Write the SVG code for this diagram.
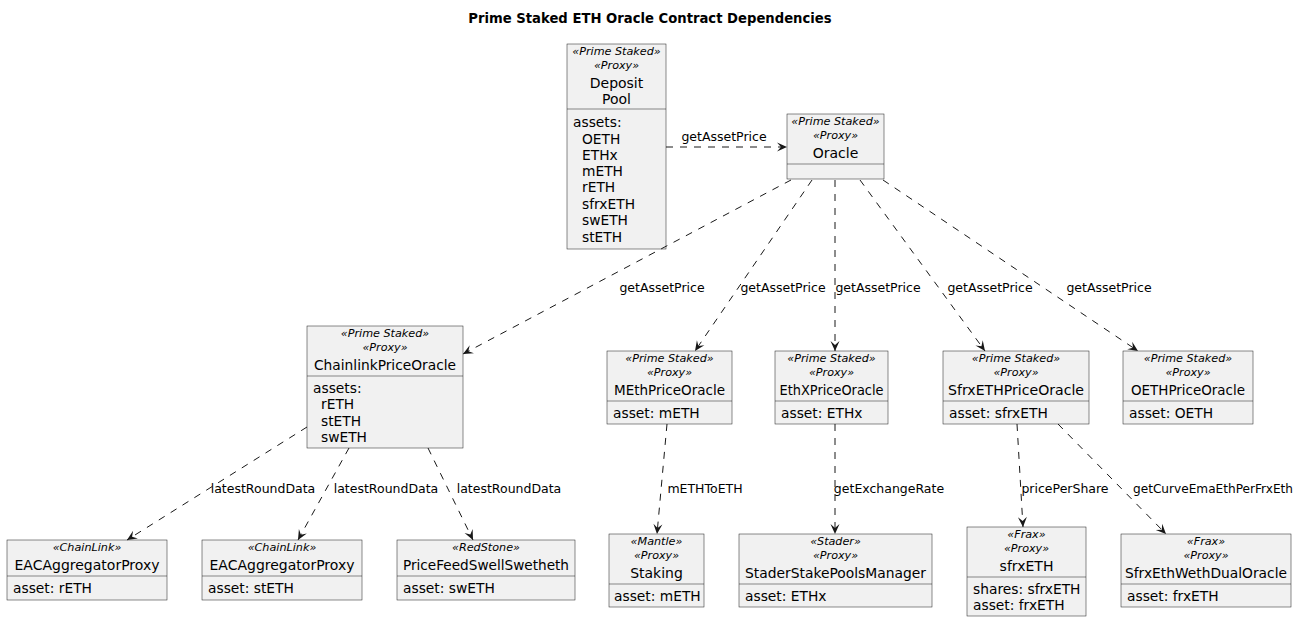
<svg xmlns="http://www.w3.org/2000/svg" width="1301" height="622" viewBox="0 0 1301 622">
<style>
text{font-family:"DejaVu Sans","Liberation Sans",sans-serif;fill:#000}
.title{font-size:13.2px;font-weight:bold;text-anchor:middle}
.st{font-size:11.2px;font-style:italic;text-anchor:middle}
.nm{font-size:14px;text-anchor:middle}
.at{font-size:13.8px}
.lb{font-size:12.5px;text-anchor:middle}
.box{fill:#F1F1F1;stroke:#181818;stroke-width:0.5}
.sep{stroke:#181818;stroke-width:0.5}
.edge{fill:none;stroke:#181818;stroke-width:1;stroke-dasharray:7,7;marker-end:url(#arr)}
</style>
<defs>
<marker id="arr" viewBox="-11 -5 12 10" refX="0" refY="0" markerWidth="12" markerHeight="10" markerUnits="userSpaceOnUse" orient="auto">
<path d="M0,0 L-10,-4.5 L-6,0 L-10,4.5 Z" fill="#181818"/>
</marker>
</defs>
<rect width="1301" height="622" fill="#FFFFFF"/>
<text class="title" x="650" y="23">Prime Staked ETH Oracle Contract Dependencies</text>

<g id="DepositPool">
<rect class="box" x="567" y="44" width="99" height="205"/>
<text class="st" x="616.5" y="55">«Prime Staked»</text>
<text class="st" x="616.5" y="69">«Proxy»</text>
<text class="nm" x="616.5" y="88">Deposit</text>
<text class="nm" x="616.5" y="104">Pool</text>
<line class="sep" x1="567" y1="109" x2="666" y2="109"/>
<text class="at" x="573" y="127">assets:</text>
<text class="at" x="582" y="144">OETH</text>
<text class="at" x="582" y="160">ETHx</text>
<text class="at" x="582" y="176">mETH</text>
<text class="at" x="582" y="192">rETH</text>
<text class="at" x="582" y="209">sfrxETH</text>
<text class="at" x="582" y="225">swETH</text>
<text class="at" x="582" y="242">stETH</text>
</g>

<g id="Oracle">
<rect class="box" x="787" y="114" width="97" height="65"/>
<text class="st" x="835.5" y="125">«Prime Staked»</text>
<text class="st" x="835.5" y="139">«Proxy»</text>
<text class="nm" x="835.5" y="158">Oracle</text>
<line class="sep" x1="787" y1="164" x2="884" y2="164"/>
</g>

<g id="ChainlinkPriceOracle">
<rect class="box" x="307" y="326" width="156" height="122"/>
<text class="st" x="385" y="337">«Prime Staked»</text>
<text class="st" x="385" y="351">«Proxy»</text>
<text class="nm" x="385" y="370" textLength="142" lengthAdjust="spacingAndGlyphs">ChainlinkPriceOracle</text>
<line class="sep" x1="307" y1="376" x2="463" y2="376"/>
<text class="at" x="313" y="393">assets:</text>
<text class="at" x="321" y="409">rETH</text>
<text class="at" x="321" y="426">stETH</text>
<text class="at" x="321" y="442">swETH</text>
</g>

<g id="MEthPriceOracle">
<rect class="box" x="607" y="351" width="125" height="73"/>
<text class="st" x="669.5" y="362">«Prime Staked»</text>
<text class="st" x="669.5" y="376">«Proxy»</text>
<text class="nm" x="669.5" y="395" textLength="111" lengthAdjust="spacingAndGlyphs">MEthPriceOracle</text>
<line class="sep" x1="607" y1="401" x2="732" y2="401"/>
<text class="at" x="613" y="418">asset: mETH</text>
</g>

<g id="EthXPriceOracle">
<rect class="box" x="775" y="351" width="113" height="73"/>
<text class="st" x="831.5" y="362">«Prime Staked»</text>
<text class="st" x="831.5" y="376">«Proxy»</text>
<text class="nm" x="831.5" y="395" textLength="104" lengthAdjust="spacingAndGlyphs">EthXPriceOracle</text>
<line class="sep" x1="775" y1="401" x2="888" y2="401"/>
<text class="at" x="781" y="418">asset: ETHx</text>
</g>

<g id="SfrxETHPriceOracle">
<rect class="box" x="943" y="351" width="146" height="73"/>
<text class="st" x="1016" y="362">«Prime Staked»</text>
<text class="st" x="1016" y="376">«Proxy»</text>
<text class="nm" x="1016" y="395" textLength="136" lengthAdjust="spacingAndGlyphs">SfrxETHPriceOracle</text>
<line class="sep" x1="943" y1="401" x2="1089" y2="401"/>
<text class="at" x="949" y="418">asset: sfrxETH</text>
</g>

<g id="OETHPriceOracle">
<rect class="box" x="1123" y="351" width="130" height="73"/>
<text class="st" x="1188" y="362">«Prime Staked»</text>
<text class="st" x="1188" y="376">«Proxy»</text>
<text class="nm" x="1188" y="395" textLength="114" lengthAdjust="spacingAndGlyphs">OETHPriceOracle</text>
<line class="sep" x1="1123" y1="401" x2="1253" y2="401"/>
<text class="at" x="1129" y="418">asset: OETH</text>
</g>

<g id="EACAggregatorProxy_rETH">
<rect class="box" x="7" y="540" width="160" height="60"/>
<text class="st" x="87" y="551">«ChainLink»</text>
<text class="nm" x="87" y="570">EACAggregatorProxy</text>
<line class="sep" x1="7" y1="576" x2="167" y2="576"/>
<text class="at" x="13" y="593">asset: rETH</text>
</g>

<g id="EACAggregatorProxy_stETH">
<rect class="box" x="202" y="540" width="160" height="60"/>
<text class="st" x="282" y="551">«ChainLink»</text>
<text class="nm" x="282" y="570">EACAggregatorProxy</text>
<line class="sep" x1="202" y1="576" x2="362" y2="576"/>
<text class="at" x="208" y="593">asset: stETH</text>
</g>

<g id="PriceFeedSwellSwetheth">
<rect class="box" x="397" y="540" width="178" height="60"/>
<text class="st" x="486" y="551">«RedStone»</text>
<text class="nm" x="486" y="570" textLength="166" lengthAdjust="spacingAndGlyphs">PriceFeedSwellSwetheth</text>
<line class="sep" x1="397" y1="576" x2="575" y2="576"/>
<text class="at" x="403" y="593">asset: swETH</text>
</g>

<g id="Staking">
<rect class="box" x="609" y="534" width="95" height="73"/>
<text class="st" x="656.5" y="545">«Mantle»</text>
<text class="st" x="656.5" y="559">«Proxy»</text>
<text class="nm" x="656.5" y="578">Staking</text>
<line class="sep" x1="609" y1="584" x2="704" y2="584"/>
<text class="at" x="614" y="601">asset: mETH</text>
</g>

<g id="StaderStakePoolsManager">
<rect class="box" x="739" y="534" width="193" height="73"/>
<text class="st" x="835.5" y="545">«Stader»</text>
<text class="st" x="835.5" y="559">«Proxy»</text>
<text class="nm" x="835.5" y="578" textLength="181" lengthAdjust="spacingAndGlyphs">StaderStakePoolsManager</text>
<line class="sep" x1="739" y1="584" x2="932" y2="584"/>
<text class="at" x="745" y="601">asset: ETHx</text>
</g>

<g id="sfrxETH">
<rect class="box" x="967" y="527" width="119" height="89"/>
<text class="st" x="1026.5" y="538">«Frax»</text>
<text class="st" x="1026.5" y="552">«Proxy»</text>
<text class="nm" x="1026.5" y="571">sfrxETH</text>
<line class="sep" x1="967" y1="577" x2="1086" y2="577"/>
<text class="at" x="973" y="594">shares: sfrxETH</text>
<text class="at" x="973" y="610">asset: frxETH</text>
</g>

<g id="SfrxEthWethDualOracle">
<rect class="box" x="1121" y="534" width="170" height="73"/>
<text class="st" x="1206" y="545">«Frax»</text>
<text class="st" x="1206" y="559">«Proxy»</text>
<text class="nm" x="1206" y="578" textLength="162" lengthAdjust="spacingAndGlyphs">SfrxEthWethDualOracle</text>
<line class="sep" x1="1121" y1="584" x2="1291" y2="584"/>
<text class="at" x="1127" y="601">asset: frxETH</text>
</g>

<g id="connectors">
<path class="edge" d="M666,147 L787,147"/>
<text class="lb" x="724" y="141">getAssetPrice</text>
<path class="edge" d="M791,180 L463,354"/>
<text class="lb" x="662" y="292">getAssetPrice</text>
<path class="edge" d="M812,180 L695,351"/>
<text class="lb" x="783" y="292">getAssetPrice</text>
<path class="edge" d="M835,180 L835,351"/>
<text class="lb" x="878" y="292">getAssetPrice</text>
<path class="edge" d="M860,180 L985,351"/>
<text class="lb" x="990" y="292">getAssetPrice</text>
<path class="edge" d="M883,180 L1138,351"/>
<text class="lb" x="1109" y="292">getAssetPrice</text>
<path class="edge" d="M307,427 L127,540"/>
<text class="lb" x="263" y="493">latestRoundData</text>
<path class="edge" d="M349,448 L298,540"/>
<text class="lb" x="386" y="493">latestRoundData</text>
<path class="edge" d="M428,448 L473,540"/>
<text class="lb" x="509" y="493">latestRoundData</text>
<path class="edge" d="M667,424 L657,534"/>
<text class="lb" x="705" y="493">mETHToETH</text>
<path class="edge" d="M835,424 L835,534"/>
<text class="lb" x="889" y="493">getExchangeRate</text>
<path class="edge" d="M1017,424 L1023,527"/>
<text class="lb" x="1065" y="493">pricePerShare</text>
<path class="edge" d="M1058,424 L1166,534"/>
<text class="lb" x="1213" y="493" textLength="160" lengthAdjust="spacingAndGlyphs">getCurveEmaEthPerFrxEth</text>
</g>
</svg>
